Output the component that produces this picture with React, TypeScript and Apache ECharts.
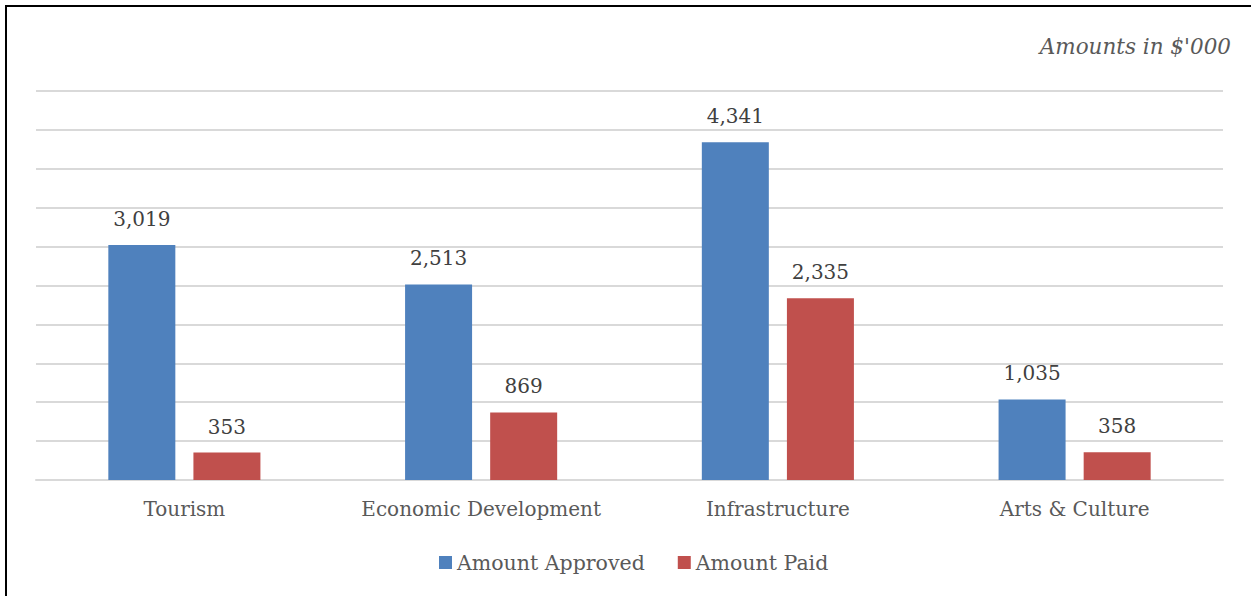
import React, { useEffect, useRef } from "react";
import * as echarts from "echarts";

const categories = ["Tourism", "Economic Development", "Infrastructure", "Arts & Culture"];
const amountApproved = [3019, 2513, 4341, 1035];
const amountPaid = [353, 869, 2335, 358];
const seriesNames = ["Amount Approved", "Amount Paid"];
const unitNote = "Amounts in $'000";

const FONT = "DejaVu Serif";

export default function App() {
  const ref = useRef<HTMLDivElement>(null);
  useEffect(() => {
    if (!ref.current) return;
    const chart = echarts.init(ref.current, null, { renderer: "svg" });
    const fmt = (p: any) => Number(p.value).toLocaleString("en-US");
    const labelStyle = {
      show: true,
      position: "top",
      distance: 16,
      formatter: fmt,
      fontFamily: FONT,
      fontSize: 20,
      color: "#404040",
    };
    chart.setOption({
      animation: false,
      backgroundColor: "#ffffff",
      title: {
        text: unitNote,
        right: 15,
        top: 30,
        textStyle: { fontFamily: FONT, fontStyle: "italic", fontWeight: "normal", fontSize: 21.5, color: "#595959" },
      },
      legend: {
        data: seriesNames,
        left: 434,
        top: 547,
        itemWidth: 13,
        itemHeight: 13,
        itemGap: 33,
        icon: "rect",
        textStyle: { fontFamily: FONT, fontSize: 20.5, color: "#595959" },
      },
      grid: { left: 36, right: 28, top: 91, bottom: 116, containLabel: false },
      xAxis: {
        type: "category",
        data: categories,
        axisLine: { show: true, lineStyle: { color: "#d9d9d9", width: 2 } },
        axisTick: { show: false },
        axisLabel: { interval: 0, fontFamily: FONT, fontSize: 20, color: "#595959", margin: 19 },
      },
      yAxis: {
        type: "value",
        min: 0,
        max: 5000,
        interval: 500,
        axisLabel: { show: false },
        axisLine: { show: false },
        axisTick: { show: false },
        splitLine: { lineStyle: { color: "#d9d9d9", width: 2 } },
      },
      series: [
        {
          name: seriesNames[0],
          type: "bar",
          data: amountApproved,
          barWidth: 67,
          barGap: "27%",
          itemStyle: { color: "#4f81bd" },
          label: labelStyle,
        },
        {
          name: seriesNames[1],
          type: "bar",
          data: amountPaid,
          barWidth: 67,
          barGap: "27%",
          itemStyle: { color: "#c0504d" },
          label: labelStyle,
        },
      ],
    });
    return () => chart.dispose();
  }, []);
  return (
    <div style={{ position: "absolute", left: 0, top: 0, width: 1251, height: 596, overflow: "hidden", background: "#fff" }}>
      <div ref={ref} style={{ position: "absolute", left: 0, top: 0, width: 1251, height: 596 }} />
      <div
        style={{
          position: "absolute",
          left: 5,
          top: 5,
          width: 1400,
          height: 800,
          borderLeft: "2px solid #000",
          borderTop: "2px solid #000",
          pointerEvents: "none",
        }}
      />
    </div>
  );
}
